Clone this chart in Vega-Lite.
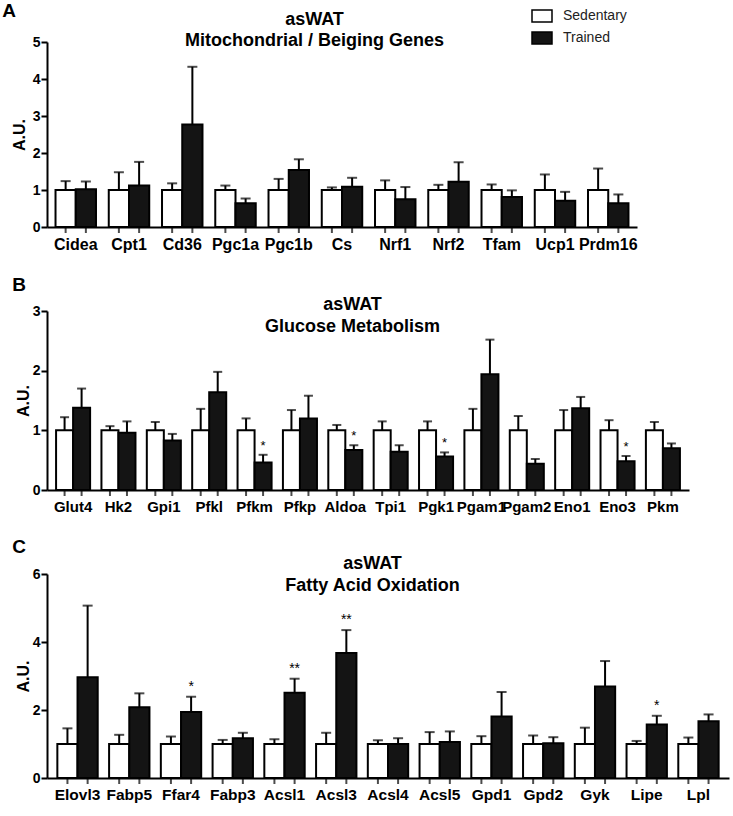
{
  "$schema": "https://vega.github.io/schema/vega-lite/v6.json",
  "padding": {"left": 2, "top": 2, "right": 4, "bottom": 4},
  "background": "white",
  "config": {
    "font": "Liberation Sans",
    "view": {"stroke": null},
    "axis": {"domainColor": "black", "domainWidth": 2, "tickColor": "black", "tickWidth": 2, "labelColor": "black", "titleColor": "black", "grid": false, "labelFontWeight": "bold", "titleFontWeight": "bold"},
    "title": {"font": "Liberation Sans", "fontWeight": "bold", "color": "black"}
  },
  "datasets": {
    "a": [
      {"gene": "Cidea", "group": "Sedentary", "value": 1.0, "top": 1.24, "sig": ""},
      {"gene": "Cidea", "group": "Trained", "value": 1.02, "top": 1.23, "sig": ""},
      {"gene": "Cpt1", "group": "Sedentary", "value": 1.0, "top": 1.48, "sig": ""},
      {"gene": "Cpt1", "group": "Trained", "value": 1.12, "top": 1.76, "sig": ""},
      {"gene": "Cd36", "group": "Sedentary", "value": 1.0, "top": 1.18, "sig": ""},
      {"gene": "Cd36", "group": "Trained", "value": 2.77, "top": 4.33, "sig": ""},
      {"gene": "Pgc1a", "group": "Sedentary", "value": 1.0, "top": 1.12, "sig": ""},
      {"gene": "Pgc1a", "group": "Trained", "value": 0.64, "top": 0.77, "sig": ""},
      {"gene": "Pgc1b", "group": "Sedentary", "value": 1.0, "top": 1.30, "sig": ""},
      {"gene": "Pgc1b", "group": "Trained", "value": 1.54, "top": 1.83, "sig": ""},
      {"gene": "Cs", "group": "Sedentary", "value": 1.0, "top": 1.07, "sig": ""},
      {"gene": "Cs", "group": "Trained", "value": 1.09, "top": 1.33, "sig": ""},
      {"gene": "Nrf1", "group": "Sedentary", "value": 1.0, "top": 1.26, "sig": ""},
      {"gene": "Nrf1", "group": "Trained", "value": 0.75, "top": 1.08, "sig": ""},
      {"gene": "Nrf2", "group": "Sedentary", "value": 1.0, "top": 1.14, "sig": ""},
      {"gene": "Nrf2", "group": "Trained", "value": 1.22, "top": 1.75, "sig": ""},
      {"gene": "Tfam", "group": "Sedentary", "value": 1.0, "top": 1.15, "sig": ""},
      {"gene": "Tfam", "group": "Trained", "value": 0.81, "top": 0.99, "sig": ""},
      {"gene": "Ucp1", "group": "Sedentary", "value": 1.0, "top": 1.42, "sig": ""},
      {"gene": "Ucp1", "group": "Trained", "value": 0.71, "top": 0.95, "sig": ""},
      {"gene": "Prdm16", "group": "Sedentary", "value": 1.0, "top": 1.58, "sig": ""},
      {"gene": "Prdm16", "group": "Trained", "value": 0.64, "top": 0.88, "sig": ""}
    ],
    "b": [
      {"gene": "Glut4", "group": "Sedentary", "value": 1.0, "top": 1.22, "sig": ""},
      {"gene": "Glut4", "group": "Trained", "value": 1.38, "top": 1.70, "sig": ""},
      {"gene": "Hk2", "group": "Sedentary", "value": 1.0, "top": 1.07, "sig": ""},
      {"gene": "Hk2", "group": "Trained", "value": 0.96, "top": 1.15, "sig": ""},
      {"gene": "Gpi1", "group": "Sedentary", "value": 1.0, "top": 1.14, "sig": ""},
      {"gene": "Gpi1", "group": "Trained", "value": 0.83, "top": 0.94, "sig": ""},
      {"gene": "Pfkl", "group": "Sedentary", "value": 1.0, "top": 1.36, "sig": ""},
      {"gene": "Pfkl", "group": "Trained", "value": 1.64, "top": 1.98, "sig": ""},
      {"gene": "Pfkm", "group": "Sedentary", "value": 1.0, "top": 1.20, "sig": ""},
      {"gene": "Pfkm", "group": "Trained", "value": 0.46, "top": 0.59, "sig": "*"},
      {"gene": "Pfkp", "group": "Sedentary", "value": 1.0, "top": 1.34, "sig": ""},
      {"gene": "Pfkp", "group": "Trained", "value": 1.20, "top": 1.58, "sig": ""},
      {"gene": "Aldoa", "group": "Sedentary", "value": 1.0, "top": 1.09, "sig": ""},
      {"gene": "Aldoa", "group": "Trained", "value": 0.67, "top": 0.75, "sig": "*"},
      {"gene": "Tpi1", "group": "Sedentary", "value": 1.0, "top": 1.15, "sig": ""},
      {"gene": "Tpi1", "group": "Trained", "value": 0.64, "top": 0.75, "sig": ""},
      {"gene": "Pgk1", "group": "Sedentary", "value": 1.0, "top": 1.15, "sig": ""},
      {"gene": "Pgk1", "group": "Trained", "value": 0.56, "top": 0.63, "sig": "*"},
      {"gene": "Pgam1", "group": "Sedentary", "value": 1.0, "top": 1.36, "sig": ""},
      {"gene": "Pgam1", "group": "Trained", "value": 1.94, "top": 2.52, "sig": ""},
      {"gene": "Pgam2", "group": "Sedentary", "value": 1.0, "top": 1.24, "sig": ""},
      {"gene": "Pgam2", "group": "Trained", "value": 0.44, "top": 0.52, "sig": ""},
      {"gene": "Eno1", "group": "Sedentary", "value": 1.0, "top": 1.34, "sig": ""},
      {"gene": "Eno1", "group": "Trained", "value": 1.37, "top": 1.56, "sig": ""},
      {"gene": "Eno3", "group": "Sedentary", "value": 1.0, "top": 1.17, "sig": ""},
      {"gene": "Eno3", "group": "Trained", "value": 0.48, "top": 0.57, "sig": "*"},
      {"gene": "Pkm", "group": "Sedentary", "value": 1.0, "top": 1.14, "sig": ""},
      {"gene": "Pkm", "group": "Trained", "value": 0.70, "top": 0.78, "sig": ""}
    ],
    "c": [
      {"gene": "Elovl3", "group": "Sedentary", "value": 1.0, "top": 1.46, "sig": ""},
      {"gene": "Elovl3", "group": "Trained", "value": 2.96, "top": 5.07, "sig": ""},
      {"gene": "Fabp5", "group": "Sedentary", "value": 1.0, "top": 1.27, "sig": ""},
      {"gene": "Fabp5", "group": "Trained", "value": 2.08, "top": 2.49, "sig": ""},
      {"gene": "Ffar4", "group": "Sedentary", "value": 1.0, "top": 1.22, "sig": ""},
      {"gene": "Ffar4", "group": "Trained", "value": 1.94, "top": 2.39, "sig": "*"},
      {"gene": "Fabp3", "group": "Sedentary", "value": 1.0, "top": 1.12, "sig": ""},
      {"gene": "Fabp3", "group": "Trained", "value": 1.17, "top": 1.33, "sig": ""},
      {"gene": "Acsl1", "group": "Sedentary", "value": 1.0, "top": 1.14, "sig": ""},
      {"gene": "Acsl1", "group": "Trained", "value": 2.51, "top": 2.92, "sig": "**"},
      {"gene": "Acsl3", "group": "Sedentary", "value": 1.0, "top": 1.33, "sig": ""},
      {"gene": "Acsl3", "group": "Trained", "value": 3.68, "top": 4.35, "sig": "**"},
      {"gene": "Acsl4", "group": "Sedentary", "value": 1.0, "top": 1.11, "sig": ""},
      {"gene": "Acsl4", "group": "Trained", "value": 1.0, "top": 1.17, "sig": ""},
      {"gene": "Acsl5", "group": "Sedentary", "value": 1.0, "top": 1.35, "sig": ""},
      {"gene": "Acsl5", "group": "Trained", "value": 1.06, "top": 1.37, "sig": ""},
      {"gene": "Gpd1", "group": "Sedentary", "value": 1.0, "top": 1.23, "sig": ""},
      {"gene": "Gpd1", "group": "Trained", "value": 1.81, "top": 2.53, "sig": ""},
      {"gene": "Gpd2", "group": "Sedentary", "value": 1.0, "top": 1.25, "sig": ""},
      {"gene": "Gpd2", "group": "Trained", "value": 1.02, "top": 1.20, "sig": ""},
      {"gene": "Gyk", "group": "Sedentary", "value": 1.0, "top": 1.48, "sig": ""},
      {"gene": "Gyk", "group": "Trained", "value": 2.69, "top": 3.44, "sig": ""},
      {"gene": "Lipe", "group": "Sedentary", "value": 1.0, "top": 1.09, "sig": ""},
      {"gene": "Lipe", "group": "Trained", "value": 1.57, "top": 1.83, "sig": "*"},
      {"gene": "Lpl", "group": "Sedentary", "value": 1.0, "top": 1.19, "sig": ""},
      {"gene": "Lpl", "group": "Trained", "value": 1.67, "top": 1.87, "sig": ""}
    ]
  },
  "spacing": 24,
  "align": "none",
  "resolve": {"scale": {"x": "independent", "y": "independent", "xOffset": "independent", "fill": "independent"}},
  "vconcat": [
    {
      "width": 590, "height": 185,
      "data": {"name": "a"},
      "title": {"text": "A", "anchor": "start", "frame": "bounds", "fontSize": 19, "dx": -9, "offset": -16},
      "resolve": {"axis": {"x": "independent"}},
      "layer": [
        {"mark": {"type": "bar", "stroke": "black", "strokeWidth": 2},
         "encoding": {
           "x": {"field": "gene", "type": "nominal", "sort": null, "scale": {"paddingInner": 0.24, "paddingOuter": 0.16},
                 "axis": {"title": null, "ticks": false, "labelAngle": 0, "labelFontSize": 16, "labelPadding": 9}},
           "xOffset": {"field": "group", "type": "nominal", "sort": ["Sedentary", "Trained"], "scale": {"paddingInner": 0, "paddingOuter": 0}},
           "y": {"field": "value", "type": "quantitative", "scale": {"domain": [0, 5], "nice": false},
                 "axis": {"values": [0, 1, 2, 3, 4, 5], "format": "d", "title": "A.U.", "titleFontSize": 16, "labelFontSize": 14, "tickSize": 6, "labelPadding": 1, "titlePadding": 5}},
           "fill": {"field": "group", "type": "nominal", "scale": {"domain": ["Sedentary", "Trained"], "range": ["white", "#141414"]},
                    "legend": {"orient": "none", "legendX": 484, "legendY": -37, "title": null, "symbolType": "M-1,-0.6H1V0.6H-1Z", "symbolSize": 400, "symbolStrokeColor": "black", "symbolStrokeWidth": 1.5, "labelFontSize": 14, "labelColor": "#222", "labelFontWeight": "normal", "rowPadding": 2, "labelOffset": 10}}
         }},
        {"mark": {"type": "rule", "strokeWidth": 2, "color": "black"},
         "encoding": {
           "x": {"field": "gene", "type": "nominal", "sort": null, "axis": null},
           "xOffset": {"field": "group", "type": "nominal", "sort": ["Sedentary", "Trained"]},
           "y": {"field": "value", "type": "quantitative", "axis": {"values": [0, 1, 2, 3, 4, 5], "format": "d", "title": "A.U.", "titleFontSize": 16, "labelFontSize": 14, "tickSize": 6, "labelPadding": 1, "titlePadding": 5}},
           "y2": {"field": "top"}}},
        {"mark": {"type": "tick", "size": 10, "thickness": 2, "color": "black"},
         "encoding": {
           "x": {"field": "gene", "type": "nominal", "sort": null, "axis": null},
           "xOffset": {"field": "group", "type": "nominal", "sort": ["Sedentary", "Trained"]},
           "y": {"field": "top", "type": "quantitative", "axis": {"values": [0, 1, 2, 3, 4, 5], "format": "d", "title": "A.U.", "titleFontSize": 16, "labelFontSize": 14, "tickSize": 6, "labelPadding": 1, "titlePadding": 5}}}},
        {"mark": {"type": "tick", "orient": "vertical", "size": 6, "thickness": 2, "yOffset": 3, "color": "black"},
         "encoding": {
           "x": {"field": "gene", "type": "nominal", "sort": null,
                 "axis": {"orient": "top", "domain": false, "labels": false, "ticks": false, "title": ["asWAT", "Mitochondrial / Beiging Genes"], "titleFontSize": 18, "titleLineHeight": 21.5, "titleX": 267, "titleY": -18, "titleAlign": "center", "titleBaseline": "alphabetic", "titleAngle": 0}},
           "xOffset": {"field": "group", "type": "nominal", "sort": ["Sedentary", "Trained"]},
           "y": {"datum": 0, "type": "quantitative", "axis": {"values": [0, 1, 2, 3, 4, 5], "format": "d", "title": "A.U.", "titleFontSize": 16, "labelFontSize": 14, "tickSize": 6, "labelPadding": 1, "titlePadding": 5}}}},
        {"mark": {"type": "text", "dy": -3, "baseline": "bottom", "fontSize": 14, "color": "black"},
         "encoding": {
           "x": {"field": "gene", "type": "nominal", "sort": null, "axis": null},
           "xOffset": {"field": "group", "type": "nominal", "sort": ["Sedentary", "Trained"]},
           "y": {"field": "top", "type": "quantitative", "axis": {"values": [0, 1, 2, 3, 4, 5], "format": "d", "title": "A.U.", "titleFontSize": 16, "labelFontSize": 14, "tickSize": 6, "labelPadding": 1, "titlePadding": 5}},
           "text": {"field": "sig"}}}
      ]
    },
    {
      "width": 642, "height": 179,
      "data": {"name": "b"},
      "title": {"text": "B", "anchor": "start", "frame": "bounds", "fontSize": 19, "dx": -3, "offset": 0},
      "resolve": {"axis": {"x": "independent"}},
      "layer": [
        {"mark": {"type": "bar", "stroke": "black", "strokeWidth": 2},
         "encoding": {
           "x": {"field": "gene", "type": "nominal", "sort": null, "scale": {"paddingInner": 0.25, "paddingOuter": 0.2},
                 "axis": {"title": null, "ticks": false, "labelAngle": 0, "labelFontSize": 15, "labelPadding": 9}},
           "xOffset": {"field": "group", "type": "nominal", "sort": ["Sedentary", "Trained"], "scale": {"paddingInner": 0, "paddingOuter": 0}},
           "y": {"field": "value", "type": "quantitative", "scale": {"domain": [0, 3], "nice": false},
                 "axis": {"values": [0, 1, 2, 3], "format": "d", "title": "A.U.", "titleFontSize": 16, "labelFontSize": 14, "tickSize": 6, "labelPadding": 1, "titlePadding": 1}},
           "fill": {"field": "group", "type": "nominal", "scale": {"domain": ["Sedentary", "Trained"], "range": ["white", "#141414"]}, "legend": null}
         }},
        {"mark": {"type": "rule", "strokeWidth": 2, "color": "black"},
         "encoding": {
           "x": {"field": "gene", "type": "nominal", "sort": null, "axis": null},
           "xOffset": {"field": "group", "type": "nominal", "sort": ["Sedentary", "Trained"]},
           "y": {"field": "value", "type": "quantitative", "axis": {"values": [0, 1, 2, 3], "format": "d", "title": "A.U.", "titleFontSize": 16, "labelFontSize": 14, "tickSize": 6, "labelPadding": 1, "titlePadding": 1}},
           "y2": {"field": "top"}}},
        {"mark": {"type": "tick", "size": 9, "thickness": 2, "color": "black"},
         "encoding": {
           "x": {"field": "gene", "type": "nominal", "sort": null, "axis": null},
           "xOffset": {"field": "group", "type": "nominal", "sort": ["Sedentary", "Trained"]},
           "y": {"field": "top", "type": "quantitative", "axis": {"values": [0, 1, 2, 3], "format": "d", "title": "A.U.", "titleFontSize": 16, "labelFontSize": 14, "tickSize": 6, "labelPadding": 1, "titlePadding": 1}}}},
        {"mark": {"type": "tick", "orient": "vertical", "size": 6, "thickness": 2, "yOffset": 3, "color": "black"},
         "encoding": {
           "x": {"field": "gene", "type": "nominal", "sort": null,
                 "axis": {"orient": "top", "domain": false, "labels": false, "ticks": false, "title": ["asWAT", "Glucose Metabolism"], "titleFontSize": 18, "titleLineHeight": 22, "titleX": 305, "titleY": -2, "titleAlign": "center", "titleBaseline": "alphabetic", "titleAngle": 0}},
           "xOffset": {"field": "group", "type": "nominal", "sort": ["Sedentary", "Trained"]},
           "y": {"datum": 0, "type": "quantitative", "axis": {"values": [0, 1, 2, 3], "format": "d", "title": "A.U.", "titleFontSize": 16, "labelFontSize": 14, "tickSize": 6, "labelPadding": 1, "titlePadding": 1}}}},
        {"mark": {"type": "text", "dy": -2, "baseline": "bottom", "fontSize": 13, "color": "black"},
         "encoding": {
           "x": {"field": "gene", "type": "nominal", "sort": null, "axis": null},
           "xOffset": {"field": "group", "type": "nominal", "sort": ["Sedentary", "Trained"]},
           "y": {"field": "top", "type": "quantitative", "axis": {"values": [0, 1, 2, 3], "format": "d", "title": "A.U.", "titleFontSize": 16, "labelFontSize": 14, "tickSize": 6, "labelPadding": 1, "titlePadding": 1}},
           "text": {"field": "sig"}}}
      ]
    },
    {
      "width": 682, "height": 204,
      "data": {"name": "c"},
      "title": {"text": "C", "anchor": "start", "frame": "bounds", "fontSize": 19, "dx": -3, "offset": -3},
      "resolve": {"axis": {"x": "independent"}},
      "layer": [
        {"mark": {"type": "bar", "stroke": "black", "strokeWidth": 2},
         "encoding": {
           "x": {"field": "gene", "type": "nominal", "sort": null, "scale": {"paddingInner": 0.22, "paddingOuter": 0.2},
                 "axis": {"title": null, "ticks": false, "labelAngle": 0, "labelFontSize": 15.5, "labelPadding": 9}},
           "xOffset": {"field": "group", "type": "nominal", "sort": ["Sedentary", "Trained"], "scale": {"paddingInner": 0, "paddingOuter": 0}},
           "y": {"field": "value", "type": "quantitative", "scale": {"domain": [0, 6], "nice": false},
                 "axis": {"values": [0, 2, 4, 6], "format": "d", "title": "A.U.", "titleFontSize": 16, "labelFontSize": 14, "tickSize": 6, "labelPadding": 1, "titlePadding": 1}},
           "fill": {"field": "group", "type": "nominal", "scale": {"domain": ["Sedentary", "Trained"], "range": ["white", "#141414"]}, "legend": null}
         }},
        {"mark": {"type": "rule", "strokeWidth": 2, "color": "black"},
         "encoding": {
           "x": {"field": "gene", "type": "nominal", "sort": null, "axis": null},
           "xOffset": {"field": "group", "type": "nominal", "sort": ["Sedentary", "Trained"]},
           "y": {"field": "value", "type": "quantitative", "axis": {"values": [0, 2, 4, 6], "format": "d", "title": "A.U.", "titleFontSize": 16, "labelFontSize": 14, "tickSize": 6, "labelPadding": 1, "titlePadding": 1}},
           "y2": {"field": "top"}}},
        {"mark": {"type": "tick", "size": 10, "thickness": 2, "color": "black"},
         "encoding": {
           "x": {"field": "gene", "type": "nominal", "sort": null, "axis": null},
           "xOffset": {"field": "group", "type": "nominal", "sort": ["Sedentary", "Trained"]},
           "y": {"field": "top", "type": "quantitative", "axis": {"values": [0, 2, 4, 6], "format": "d", "title": "A.U.", "titleFontSize": 16, "labelFontSize": 14, "tickSize": 6, "labelPadding": 1, "titlePadding": 1}}}},
        {"mark": {"type": "tick", "orient": "vertical", "size": 6, "thickness": 2, "yOffset": 3, "color": "black"},
         "encoding": {
           "x": {"field": "gene", "type": "nominal", "sort": null,
                 "axis": {"orient": "top", "domain": false, "labels": false, "ticks": false, "title": ["asWAT", "Fatty Acid Oxidation"], "titleFontSize": 18, "titleLineHeight": 22, "titleX": 325, "titleY": -6, "titleAlign": "center", "titleBaseline": "alphabetic", "titleAngle": 0}},
           "xOffset": {"field": "group", "type": "nominal", "sort": ["Sedentary", "Trained"]},
           "y": {"datum": 0, "type": "quantitative", "axis": {"values": [0, 2, 4, 6], "format": "d", "title": "A.U.", "titleFontSize": 16, "labelFontSize": 14, "tickSize": 6, "labelPadding": 1, "titlePadding": 1}}}},
        {"mark": {"type": "text", "dy": -3, "baseline": "bottom", "fontSize": 14, "color": "black"},
         "encoding": {
           "x": {"field": "gene", "type": "nominal", "sort": null, "axis": null},
           "xOffset": {"field": "group", "type": "nominal", "sort": ["Sedentary", "Trained"]},
           "y": {"field": "top", "type": "quantitative", "axis": {"values": [0, 2, 4, 6], "format": "d", "title": "A.U.", "titleFontSize": 16, "labelFontSize": 14, "tickSize": 6, "labelPadding": 1, "titlePadding": 1}},
           "text": {"field": "sig"}}}
      ]
    }
  ]
}
